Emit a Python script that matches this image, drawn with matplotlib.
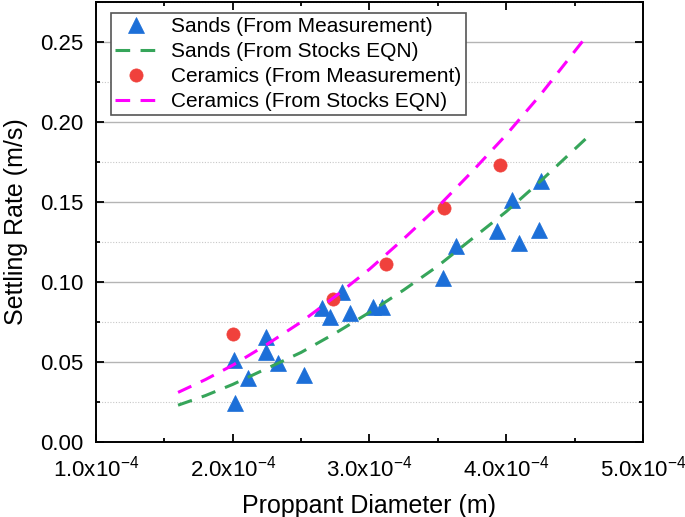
import matplotlib
matplotlib.use("Agg")
import matplotlib.pyplot as plt
from matplotlib.ticker import FixedLocator, FixedFormatter, MultipleLocator

plt.rcParams['font.family'] = ['Liberation Sans', 'DejaVu Sans']
plt.rcParams['mathtext.fontset'] = 'custom'
plt.rcParams['mathtext.rm'] = 'Liberation Sans'
plt.rcParams['mathtext.it'] = 'Liberation Sans:italic'
plt.rcParams['mathtext.bf'] = 'Liberation Sans:bold'

# ---- data (diameter in m, settling rate in m/s) ----
sand_meas_d = [2.015e-4, 2.007e-4, 2.109e-4, 2.241e-4, 2.241e-4, 2.328e-4, 2.518e-4,
               2.650e-4, 2.708e-4, 2.796e-4, 2.861e-4, 3.022e-4, 3.095e-4, 3.540e-4,
               3.635e-4, 3.934e-4, 4.044e-4, 4.095e-4, 4.241e-4, 4.255e-4]
sand_meas_v = [0.0244, 0.0513, 0.0400, 0.0656, 0.0563, 0.0494, 0.0419,
               0.0838, 0.0781, 0.0938, 0.0806, 0.0844, 0.0844, 0.1025,
               0.1225, 0.1319, 0.1513, 0.1244, 0.1325, 0.1631]

cer_meas_d = [2.00e-4, 2.73e-4, 3.124e-4, 3.547e-4, 3.956e-4]
cer_meas_v = [0.0675, 0.0894, 0.1110, 0.1460, 0.1730]

eqn_d = [1.6e-4, 1.8e-4, 2.0e-4, 2.25e-4, 2.5e-4, 2.75e-4, 3.0e-4, 3.25e-4,
         3.5e-4, 3.75e-4, 4.0e-4, 4.25e-4, 4.6e-4]
sand_eqn_v = [0.023, 0.029, 0.036, 0.046, 0.056, 0.068, 0.081, 0.095,
              0.110, 0.127, 0.144, 0.163, 0.191]
cer_eqn_v = [0.031, 0.039, 0.048, 0.061, 0.075, 0.091, 0.108, 0.127,
             0.147, 0.169, 0.192, 0.217, 0.255]

xtick_vals = [1e-4, 2e-4, 3e-4, 4e-4, 5e-4]
xtick_labels = ['1.0x10$^{-4}$', '2.0x10$^{-4}$', '3.0x10$^{-4}$', '4.0x10$^{-4}$', '5.0x10$^{-4}$']
ytick_vals = [0.00, 0.05, 0.10, 0.15, 0.20, 0.25]
ytick_labels = ['0.00', '0.05', '0.10', '0.15', '0.20', '0.25']

labels = ['Sands (From Measurement)', 'Sands (From Stocks EQN)',
          'Ceramics (From Measurement)', 'Ceramics (From Stocks EQN)']

# ---- figure ----
fig = plt.figure(figsize=(6.85, 5.17), dpi=100)
ax = fig.add_axes([96/685, 1-442/517, (643-96)/685, (442-2)/517])

blue = '#1c6fd8'
red = '#f0413c'
green = '#36a55a'
magenta = '#ff00ff'

h1, = ax.plot(sand_meas_d, sand_meas_v, linestyle='none', marker='^', ms=11,
              color=blue, mec=blue, mew=0.5, zorder=3)
h3, = ax.plot(cer_meas_d, cer_meas_v, linestyle='none', marker='o', ms=9.5,
              color=red, mec=red, mew=0.5, zorder=3)
h2, = ax.plot(eqn_d, sand_eqn_v, color=green, lw=2.2, dashes=(4.8, 3.4), zorder=4)
h4, = ax.plot(eqn_d, cer_eqn_v, color=magenta, lw=2.2, dashes=(4.8, 3.4), zorder=4)

ax.set_xlim(1e-4, 5e-4)
ax.set_ylim(0, 0.275)

ax.xaxis.set_major_locator(FixedLocator(xtick_vals))
ax.xaxis.set_major_formatter(FixedFormatter(xtick_labels))
ax.xaxis.set_minor_locator(MultipleLocator(0.5e-4))
ax.yaxis.set_major_locator(FixedLocator(ytick_vals))
ax.yaxis.set_major_formatter(FixedFormatter(ytick_labels))
ax.yaxis.set_minor_locator(MultipleLocator(0.025))

ax.tick_params(which='both', direction='in', top=True, right=True, width=1.3, colors='black')
ax.tick_params(which='major', length=6)
ax.tick_params(which='minor', length=3)
ax.tick_params(axis='y', which='major', labelsize=16, pad=9)
ax.tick_params(axis='x', which='major', labelsize=16, pad=10)

for s in ax.spines.values():
    s.set_linewidth(1.4)
    s.set_color('black')

ax.grid(axis='y', which='major', color='#b4b4b4', lw=1.0, ls='-', zorder=0)
ax.grid(axis='y', which='minor', color='#c8c8c8', lw=0.8, ls=(0, (1, 1.5)), zorder=0)
ax.set_axisbelow(True)

ax.set_xlabel('Proppant Diameter (m)', fontsize=18, labelpad=9)
ax.set_ylabel('Settling Rate (m/s)', fontsize=18, labelpad=9)

leg = ax.legend([h1, h2, h3, h4], labels, loc='upper left',
                bbox_to_anchor=((111-96)/547, (442-13)/440), borderaxespad=0,
                fontsize=15, numpoints=1, handlelength=2.0, handletextpad=0.7,
                labelspacing=0.29, borderpad=0.2, fancybox=False, framealpha=1)
leg.get_frame().set_edgecolor('#555555')
leg.get_frame().set_linewidth(1.2)

fig.savefig('out.png', dpi=100)
